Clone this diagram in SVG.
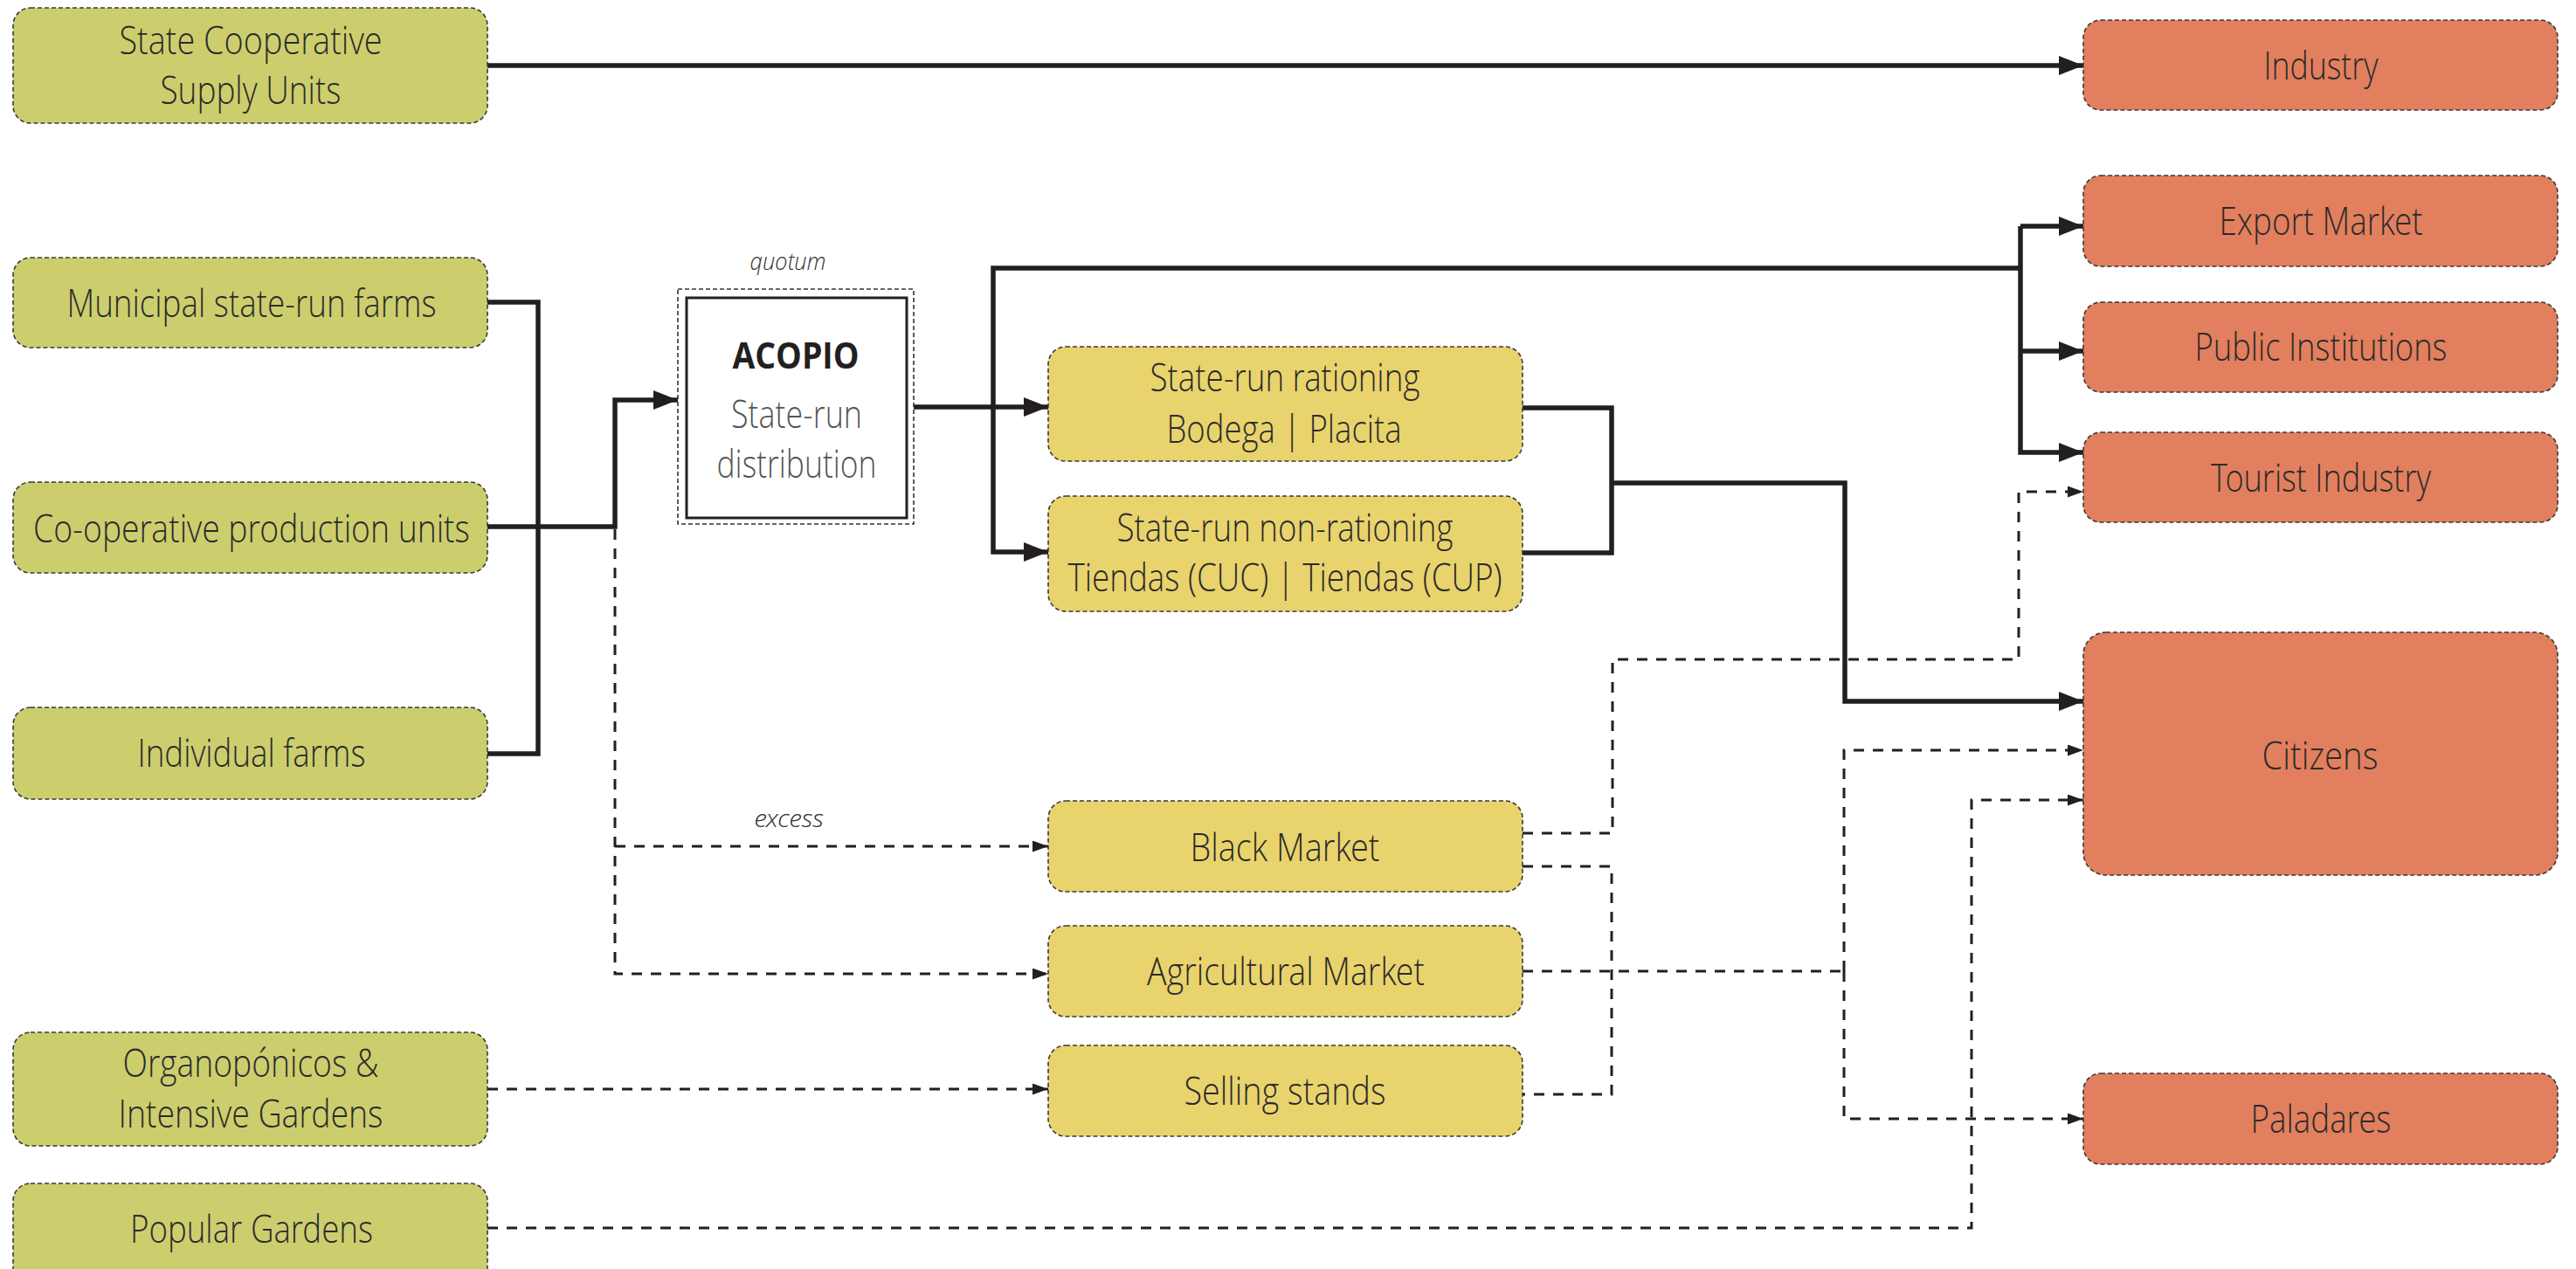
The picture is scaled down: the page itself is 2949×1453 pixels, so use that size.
<svg xmlns="http://www.w3.org/2000/svg" width="2949" height="1453" viewBox="0 0 2949 1453">
  <style>
    .box { stroke: #3a3a3a; stroke-width: 1.6; stroke-dasharray: 5 3; }
    .src { fill: #CCCE6E; }
    .mid { fill: #E9D36D; }
    .dst { fill: #E27F5E; }
    .lbl { font-family: "Open Sans Light", "Lato Light", "Roboto Light", "Open Sans", "Liberation Sans", sans-serif; font-weight: 300; font-size: 44px; fill: #2b2b2b; text-anchor: middle; }
    .note { font-family: "Open Sans Light", "Lato Light", "Open Sans", "Liberation Sans", sans-serif; font-style: italic; font-weight: 300; font-size: 28px; fill: #333; text-anchor: middle; }
    .solid { fill: none; stroke: #231f20; stroke-width: 5.5; stroke-linejoin: miter; }
    .dash { fill: none; stroke: #231f20; stroke-width: 3; stroke-dasharray: 12 10; }
  </style>
  <defs>
    <marker id="arrow" markerUnits="userSpaceOnUse" markerWidth="28" markerHeight="22" refX="28" refY="11" orient="auto">
      <path d="M0,0 L28,11 L0,22 z" fill="#231f20"/>
    </marker>
    <marker id="arrow-s" markerUnits="userSpaceOnUse" markerWidth="18" markerHeight="13" refX="18" refY="6.5" orient="auto">
      <path d="M0,0 L18,6.5 L0,13 z" fill="#231f20"/>
    </marker>
  </defs>

  <rect width="2949" height="1453" fill="#ffffff"/>

  <!-- connectors -->
  <g id="connectors">
    <!-- solid flows -->
    <path class="solid" d="M558,75 H2385" marker-end="url(#arrow)"/>
    <path class="solid" d="M558,346 H616 V863 H558"/>
    <path class="solid" d="M558,603 H704 V458 H776" marker-end="url(#arrow)"/>
    <path class="solid" d="M1046,466 H1200" marker-end="url(#arrow)"/>
    <path class="solid" d="M2313,307 H1137 V632 H1200" marker-end="url(#arrow)"/>
    <path class="solid" d="M2313,259 V518 H2385" marker-end="url(#arrow)"/>
    <path class="solid" d="M2313,259 H2385" marker-end="url(#arrow)"/>
    <path class="solid" d="M2313,402 H2385" marker-end="url(#arrow)"/>
    <path class="solid" d="M1743,467 H1845 V633 H1743"/>
    <path class="solid" d="M1845,553 H2112 V803 H2385" marker-end="url(#arrow)"/>

    <!-- dashed flows -->
    <path class="dash" d="M704,606 V1115 H1200" marker-end="url(#arrow-s)"/>
    <path class="dash" d="M704,969 H1200" marker-end="url(#arrow-s)"/>
    <path class="dash" d="M1743,954 H1846 V755 H2311 V563 H2385" marker-end="url(#arrow-s)"/>
    <path class="dash" d="M1743,992 H1845 V1253 H1743"/>
    <path class="dash" d="M1743,1112 H2111"/>
    <path class="dash" d="M2111,1112 V859 H2385" marker-end="url(#arrow-s)"/>
    <path class="dash" d="M2111,1112 V1281 H2385" marker-end="url(#arrow-s)"/>
    <path class="dash" d="M558,1406 H2257 V916 H2385" marker-end="url(#arrow-s)"/>
    <path class="dash" d="M558,1247 H1200" marker-end="url(#arrow-s)"/>

    <text class="note" x="902" y="309" textLength="87" lengthAdjust="spacingAndGlyphs">quotum</text>
    <text class="note" x="903" y="947" textLength="79" lengthAdjust="spacingAndGlyphs">excess</text>
  </g>

  <!-- producers -->
  <g id="state-coop-supply">
    <rect class="box src" x="15" y="9" width="543" height="132" rx="20"/>
    <text class="lbl" x="287" y="62" textLength="301" lengthAdjust="spacingAndGlyphs">State Cooperative</text>
    <text class="lbl" x="287" y="119" textLength="207" lengthAdjust="spacingAndGlyphs">Supply Units</text>
  </g>
  <g id="municipal-farms">
    <rect class="box src" x="15" y="295" width="543" height="103" rx="20"/>
    <text class="lbl" x="288" y="363" textLength="423" lengthAdjust="spacingAndGlyphs">Municipal state-run farms</text>
  </g>
  <g id="cooperative-units">
    <rect class="box src" x="15" y="552" width="543" height="104" rx="20"/>
    <text class="lbl" x="288" y="621" textLength="500" lengthAdjust="spacingAndGlyphs">Co-operative production units</text>
  </g>
  <g id="individual-farms">
    <rect class="box src" x="15" y="810" width="543" height="105" rx="20"/>
    <text class="lbl" x="288" y="878" textLength="261" lengthAdjust="spacingAndGlyphs">Individual farms</text>
  </g>
  <g id="organoponicos">
    <rect class="box src" x="15" y="1182" width="543" height="130" rx="20"/>
    <text class="lbl" x="287" y="1233" textLength="293" lengthAdjust="spacingAndGlyphs">Organopónicos &amp;</text>
    <text class="lbl" x="287" y="1291" textLength="303" lengthAdjust="spacingAndGlyphs">Intensive Gardens</text>
  </g>
  <g id="popular-gardens">
    <rect class="box src" x="15" y="1355" width="543" height="130" rx="20"/>
    <text class="lbl" x="288" y="1423" textLength="278" lengthAdjust="spacingAndGlyphs">Popular Gardens</text>
  </g>

  <!-- collection -->
  <g id="acopio">
    <rect x="776" y="331" width="270" height="269" fill="none" stroke="#333" stroke-width="1.6" stroke-dasharray="5 3"/>
    <rect x="786" y="341" width="252" height="252" fill="#ffffff" stroke="#231f20" stroke-width="3"/>
    <text x="911" y="422" textLength="145" lengthAdjust="spacingAndGlyphs" style="font-family:'Open Sans','Liberation Sans',sans-serif;font-weight:700;font-size:42px;fill:#231f20;text-anchor:middle">ACOPIO</text>
    <text class="lbl" x="912" y="490" textLength="150" lengthAdjust="spacingAndGlyphs" style="fill:#555">State-run</text>
    <text class="lbl" x="912" y="547" textLength="183" lengthAdjust="spacingAndGlyphs" style="fill:#555">distribution</text>
  </g>

  <!-- distribution channels -->
  <g id="state-rationing">
    <rect class="box mid" x="1200" y="397" width="543" height="131" rx="20"/>
    <text class="lbl" x="1471" y="448" textLength="309" lengthAdjust="spacingAndGlyphs">State-run rationing</text>
    <text class="lbl" x="1470" y="507" textLength="269" lengthAdjust="spacingAndGlyphs">Bodega | Placita</text>
  </g>
  <g id="state-non-rationing">
    <rect class="box mid" x="1200" y="568" width="543" height="132" rx="20"/>
    <text class="lbl" x="1471" y="620" textLength="385" lengthAdjust="spacingAndGlyphs">State-run non-rationing</text>
    <text class="lbl" x="1471" y="677" textLength="497" lengthAdjust="spacingAndGlyphs">Tiendas (CUC) | Tiendas (CUP)</text>
  </g>
  <g id="black-market">
    <rect class="box mid" x="1200" y="917" width="543" height="104" rx="20"/>
    <text class="lbl" x="1471" y="986" textLength="217" lengthAdjust="spacingAndGlyphs">Black Market</text>
  </g>
  <g id="agricultural-market">
    <rect class="box mid" x="1200" y="1060" width="543" height="104" rx="20"/>
    <text class="lbl" x="1472" y="1128" textLength="318" lengthAdjust="spacingAndGlyphs">Agricultural Market</text>
  </g>
  <g id="selling-stands">
    <rect class="box mid" x="1200" y="1197" width="543" height="104" rx="20"/>
    <text class="lbl" x="1471" y="1265" textLength="231" lengthAdjust="spacingAndGlyphs">Selling stands</text>
  </g>

  <!-- consumers -->
  <g id="industry">
    <rect class="box dst" x="2385" y="23" width="543" height="103" rx="20"/>
    <text class="lbl" x="2657" y="91" textLength="131" lengthAdjust="spacingAndGlyphs">Industry</text>
  </g>
  <g id="export-market">
    <rect class="box dst" x="2385" y="201" width="543" height="104" rx="20"/>
    <text class="lbl" x="2657" y="269" textLength="233" lengthAdjust="spacingAndGlyphs">Export Market</text>
  </g>
  <g id="public-institutions">
    <rect class="box dst" x="2385" y="346" width="543" height="103" rx="20"/>
    <text class="lbl" x="2657" y="413" textLength="289" lengthAdjust="spacingAndGlyphs">Public Institutions</text>
  </g>
  <g id="tourist-industry">
    <rect class="box dst" x="2385" y="495" width="543" height="103" rx="20"/>
    <text class="lbl" x="2657" y="563" textLength="252" lengthAdjust="spacingAndGlyphs">Tourist Industry</text>
  </g>
  <g id="citizens">
    <rect class="box dst" x="2385" y="724" width="543" height="278" rx="26"/>
    <text class="lbl" x="2656" y="881" textLength="133" lengthAdjust="spacingAndGlyphs">Citizens</text>
  </g>
  <g id="paladares">
    <rect class="box dst" x="2385" y="1229" width="543" height="104" rx="20"/>
    <text class="lbl" x="2657" y="1297" textLength="161" lengthAdjust="spacingAndGlyphs">Paladares</text>
  </g>
</svg>
